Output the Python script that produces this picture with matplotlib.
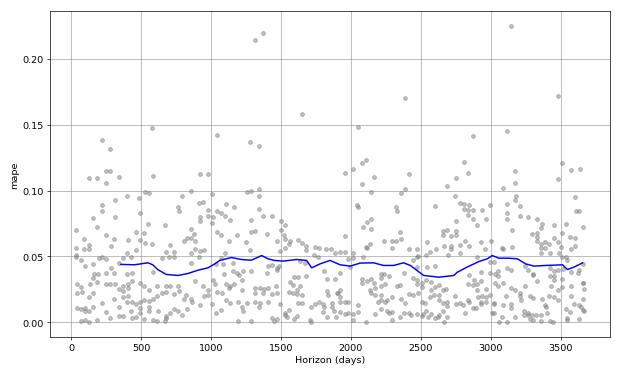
import matplotlib
matplotlib.use('Agg')
import matplotlib.pyplot as plt

# Puntos de error (horizonte en dias, mape)
horizonte = [
    576, 217, 275, 246, 275, 124, 182, 246, 339, 583, 526, 555, 397, 311, 488, 791, 217, 217, 153, 311,
    490, 762, 770, 547, 669, 182, 31, 461, 246, 519, 88, 303, 404, 490, 528, 827, 806, 124, 88, 124,
    31, 282, 705, 461, 576, 397, 676, 734, 734, 698, 648, 31, 31, 67, 196, 217, 246, 368, 425, 153,
    95, 282, 339, 160, 189, 246, 303, 397, 433, 583, 153, 38, 67, 38, 74, 131, 182, 246, 275, 311,
    339, 368, 404, 433, 490, 519, 368, 404, 555, 612, 676, 705, 760, 153, 124, 217, 303, 368, 404, 583,
    612, 648, 676, 734, 770, 817, 806, 397, 433, 461, 490, 519, 555, 38, 67, 95, 95, 124, 153, 246,
    339, 425, 490, 555, 555, 619, 676, 705, 734, 762, 791, 827, 275, 339, 368, 433, 461, 490, 519, 583,
    612, 669, 182, 67, 95, 124, 676,
    1042, 1279, 1343, 920, 978, 856, 1257, 1286, 1343, 1343, 1006, 913, 942, 1107, 1164, 978, 1042, 1071, 1343, 1372,
    1437, 920, 978, 1013, 920, 1100, 1135, 1286, 1006, 1501, 1530, 856, 1042, 1315, 1286, 1501, 856, 877, 1071, 1186,
    1401, 1523, 884, 1250, 1128, 1472, 1530, 1566, 1623, 884, 856, 920, 949, 1100, 1279, 1494, 1530, 1559, 1652, 1680,
    1680, 1745, 1774, 1824, 1860, 1738, 1767, 913, 1071, 856, 1035, 1085, 1157, 1408, 1437, 1472, 1487, 1638, 1673, 1888,
    1092, 1157, 1186, 1229, 1286, 884, 1013, 1028, 1200, 1221, 1401, 1472, 1595, 1623, 1680, 1566, 1587, 1810, 1831, 1888,
    942, 949, 978, 978, 1042, 1078, 1107, 1135, 1128, 1164, 1221, 1315, 1351, 1379, 1408, 1465, 1315, 1372, 1437, 1472,
    1559, 1587, 1616, 1652, 1638, 1616, 1831, 1838, 1898, 856, 863, 920, 1006, 1107, 1135, 1193, 1257, 1315, 1351, 1408,
    1221, 1229, 1343, 1494, 1623, 1652, 1745, 1774, 1803, 1810, 1867, 1867, 1881, 1559, 1530, 1716, 1803, 1035, 1071, 1193,
    1286, 1437, 1451, 1472, 1530, 1544, 1595, 1616, 1709, 1716, 1831, 1891, 1315, 1372, 1652,
    2047, 1954, 2011, 2076, 2104, 2076, 2162, 2140, 2413, 2356, 2384, 2040, 2047, 2320, 2327, 2083, 2112, 2140, 2140, 1954,
    2348, 2234, 2291, 2320, 2356, 2133, 2112, 2291, 2413, 2470, 1925, 1954, 2018, 2018, 1982, 2083, 2104, 2442, 2470, 2478,
    2470, 2377, 1925, 1990, 2076, 2076, 2112, 2140, 2162, 2212, 2234, 2270, 2212, 2169, 2212, 2241, 2327, 2348, 2442, 2470,
    2470, 2506, 2506, 1925, 1904, 2133, 2140, 1925, 1925, 1954, 1982, 2047, 2169, 2212, 2212, 2255, 2291, 2356, 2384, 2413,
    2442, 2478, 2191, 2241, 2506, 2528, 1925, 1954, 1982, 2011, 2018, 2047, 2104, 2169, 2212, 2255, 2270, 2291, 2291, 2348,
    2377, 2413, 2427, 2470, 2506, 2513, 2685, 2750, 2807, 2836, 2599, 2743, 2779, 2807, 2807, 2836, 2843, 2872, 2750, 2836,
    2872, 2657, 2685, 2657, 2714, 2750, 2750, 2542, 2607, 2664, 2714, 2714, 2779, 2815, 2843, 2564, 2535, 2693, 2779, 2542,
    2599, 2843, 2879, 2872, 2836, 2535, 2571, 2571, 2599, 2628, 2657, 2678, 2564, 2592, 2628, 2628, 2657, 2685, 2685, 2743,
    2750, 2779, 2800, 2836, 2843, 2535, 2549, 2571, 2599, 2621, 2628, 2664, 2657, 2685, 2815, 2872, 2894, 2872, 2384,
    3116, 3173, 3173, 3087, 3510, 3575, 3639, 3481, 3180, 3173, 3116, 3209, 3603, 2936, 2994, 2965, 2900, 3116, 3116, 3209,
    3266, 3331, 3611, 3632, 3367, 3360, 3453, 3539, 3151, 3661, 3295, 3331, 3331, 3331, 3360, 3388, 3417, 3388, 3360, 3360,
    3424, 3453, 3481, 3510, 3503, 3567, 3603, 3603, 3575, 3489, 3510, 3539, 3546, 2929, 2958, 3001, 3080, 3151, 3087, 2900,
    2994, 3022, 2929, 2994, 3030, 3051, 3051, 3116, 3144, 3245, 3266, 3302, 3302, 3424, 3453, 3424, 3481, 3517, 3575, 3625,
    3632, 3661, 3661, 3331, 3453, 3453, 3510, 2929, 2900, 2900, 2965, 2908, 2936, 2965, 2965, 2929, 2929, 3030, 3087, 2994,
    3022, 3022, 3051, 3144, 3108, 3173, 3209, 3209, 3216, 3245, 3281, 3302, 3367, 3417, 3431, 3481, 3510, 3575, 3575, 3661,
    3668, 3661, 3596, 3632, 3646, 3661, 3668, 3087, 3144, 3144, 3238, 3266, 3266, 3295, 3281, 3302, 3324, 3360, 3360, 3388,
    3395, 3403, 3424, 3446, 3453, 3481, 3539, 3567, 3546, 3546, 3632, 3058, 3116, 3022, 3008, 3080, 3173, 3238, 3144, 3482,
]
mape = [
    .1475, .138, .1315, .115, .115, .1096, .1096, .1058, .110, .111, .099, .098, .096, .093, .0944, .096, .089, .0846, .0793, .080,
    .083, .0876, .0846, .0747, .074, .0725, .0697, .0687, .0664, .068, .063, .0634, .0626, .0626, .0603, .064, .0618, .0588, .0558, .0558,
    .0565, .058, .0588, .055, .0596, .0527, .0535, .0535, .0497, .0497, .049, .0512, .0497, .0474, .049, .0495, .048, .049, .0495, .044,
    .043, .0416, .0454, .0369, .0369, .0376, .0376, .0369, .0376, .0381, .0336, .0293, .027, .0222, .023, .0293, .0305, .0293, .0293, .029,
    .0255, .0275, .0293, .0313, .0298, .0275, .0237, .026, .0245, .0275, .0275, .0275, .0275, .022, .0192, .0146, .0177, .019, .0199, .0177,
    .0199, .0222, .023, .0212, .0237, .0207, .0177, .0154, .0154, .0139, .0154, .0167, .0161, .0108, .0101, .0108, .0086, .0086, .012, .0078,
    .0116, .0086, .0108, .0086, .0116, .0086, .0048, .0071, .0101, .0086, .0053, .0101, .0033, .0048, .0048, .0033, .004, .0071, .0025, .0018,
    .001, .001, .0018, .001, .0018, .0003, .0033,
    .142, .1368, .1338, .1126, .1126, .0997, .099, .0997, .1012, .096, .0974, .0906, .0914, .0899, .0876, .0853, .0846, .083, .0861, .0808,
    .0808, .080, .0808, .080, .077, .0808, .0778, .0778, .0755, .077, .074, .0709, .0687, .0694, .0687, .0702, .064, .067, .0664, .0664,
    .067, .0664, .0618, .061, .0618, .0618, .0634, .0618, .0626, .0558, .0527, .0543, .055, .0527, .055, .0543, .0565, .0596, .0603, .058,
    .055, .0573, .0565, .0558, .0558, .0512, .0497, .0497, .049, .0452, .0444, .0444, .0452, .043, .0437, .0414, .043, .0467, .0452, .0527,
    .0369, .039, .0376, .039, .039, .0316, .0324, .0293, .0361, .0324, .0376, .0399, .0346, .0346, .0354, .0308, .0285, .039, .033, .033,
    .0275, .0199, .0207, .0247, .023, .0222, .0293, .0278, .026, .029, .0247, .026, .026, .0252, .026, .0275, .0222, .0222, .0215, .0222,
    .023, .0222, .0212, .0207, .0275, .0245, .0237, .0207, .0222, .0177, .0154, .0136, .0139, .0167, .0146, .0154, .0148, .0154, .0146, .0154,
    .0116, .0086, .0116, .0139, .0146, .0146, .0139, .0154, .0139, .0116, .0146, .0116, .0086, .0093, .0071, .0116, .0078, .0071, .0093, .001,
    .001, .0033, .001, .0025, .0055, .004, .0025, .0048, .0018, .0003, .004, .004, .214, .219, .158,
    .148, .1134, .1164, .1209, .1232, .105, .110, .099, .1126, .098, .1012, .089, .0876, .0876, .0846, .0725, .0763, .0785, .0709, .0657,
    .0687, .0618, .0618, .0618, .0634, .0596, .0565, .0565, .0558, .0558, .0535, .0535, .0527, .049, .0482, .0497, .0573, .0474, .0497, .0505,
    .042, .0376, .0376, .042, .033, .030, .0316, .033, .030, .0369, .0369, .0354, .0338, .026, .0278, .0293, .0278, .0285, .0338, .0324,
    .0293, .030, .0268, .0245, .0222, .0245, .0222, .019, .0154, .0154, .0154, .0134, .0207, .0207, .0169, .0167, .019, .018, .0146, .0212,
    .0207, .0222, .0154, .0154, .0154, .0146, .0078, .0063, .0071, .0063, .0018, .0078, .0003, .0063, .0101, .0086, .0071, .0078, .0018, .004,
    .0071, .0071, .0055, .0063, .0048, .0063, .1035, .1096, .1217, .1134, .0884, .096, .0906, .0899, .0861, .0853, .0891, .0853, .077, .0815,
    .0785, .0694, .0702, .0664, .0657, .0694, .0664, .061, .0558, .058, .058, .0558, .0588, .0618, .058, .0535, .0512, .0512, .0527, .042,
    .043, .0361, .0324, .0285, .0293, .0324, .0308, .0247, .0268, .0283, .0245, .0257, .019, .0207, .0207, .0169, .0146, .0156, .0124, .0199,
    .0139, .0146, .0131, .0169, .0154, .0086, .004, .0063, .0033, .004, .0055, .0005, .0086, .004, .0071, .0111, .0111, .1414, .170,
    .1452, .1149, .1058, .102, .1209, .1156, .1164, .1088, .096, .093, .0899, .0884, .0952, .0853, .0891, .0785, .074, .083, .0785, .0808,
    .080, .0785, .0846, .0846, .0747, .0717, .074, .0747, .0702, .0725, .067, .0679, .0649, .0618, .0596, .061, .0596, .0565, .0565, .0527,
    .0527, .064, .061, .0679, .0573, .0649, .064, .058, .0558, .0527, .0497, .0497, .0474, .0611, .0558, .0618, .0565, .0573, .0558, .0497,
    .0459, .0459, .0383, .0376, .0369, .039, .0354, .0414, .0399, .043, .0399, .0369, .0361, .0414, .039, .0354, .0399, .0406, .0383, .0376,
    .0399, .0444, .030, .0316, .0354, .0324, .033, .0316, .0293, .0247, .0255, .019, .0199, .019, .0154, .0154, .0139, .030, .030, .0207,
    .0146, .0139, .0275, .026, .0199, .0247, .0222, .0199, .0169, .028, .0199, .0187, .0177, .0199, .0275, .0245, .0268, .0275, .0199, .030,
    .0252, .0177, .0139, .0131, .0116, .0093, .0086, .0131, .0139, .0108, .0086, .0071, .0055, .0055, .0025, .0018, .0055, .0055, .001, .0131,
    .0116, .0071, .001, .0003, .019, .0169, .0101, .0078, .0033, .0018, .0025, .0003, .0003, .0071, .0071, .004, .004, .0055, .2248, .1717,
]

# Media movil (linea azul)
horizonte_linea = [355, 452, 548, 583, 619, 679, 763, 834, 906, 978, 1026, 1062, 1145, 1217, 1289, 1361, 1408, 1451,
                   1516, 1611, 1683, 1719, 1779, 1850, 1922, 1994, 2066, 2161, 2233, 2305, 2376, 2424, 2472, 2520,
                   2563, 2628, 2735, 2759, 2831, 2915, 2974, 3010, 3058, 3130, 3190, 3249, 3309, 3393, 3512, 3548,
                   3596, 3656]
mape_linea = [.044, .0437, .0452, .0437, .040, .0364, .0356, .0371, .0396, .0414, .0444, .047, .0492, .0477, .0472, .0507,
              .0482, .047, .0465, .0477, .047, .0414, .0444, .047, .0437, .0427, .045, .0452, .0432, .0432, .0452, .0432,
              .0394, .0356, .0351, .0343, .0356, .038, .042, .0462, .0482, .0507, .0487, .0487, .0482, .0444, .0427,
              .0432, .0437, .0401, .042, .0452]

plt.rcParams['font.size'] = 11.2

# figura de 10x6 pulgadas reducida a 619x375
fig = plt.figure(figsize=(10, 6.058), dpi=61.9, facecolor='w')
ax = fig.add_subplot(111)
fig.subplots_adjust(left=0.081, right=0.985, top=0.968, bottom=0.099)

ax.plot(horizonte, mape, '.', alpha=0.5, c='gray', markersize=9)
ax.plot(horizonte_linea, mape_linea, '-', c='b', lw=1.7)
ax.grid(True, which='major', c='gray', ls='-', lw=1.2, alpha=0.5)
ax.set_xlabel('Horizon (days)')
ax.set_ylabel('mape')

fig.savefig('out.png', dpi=61.9)
